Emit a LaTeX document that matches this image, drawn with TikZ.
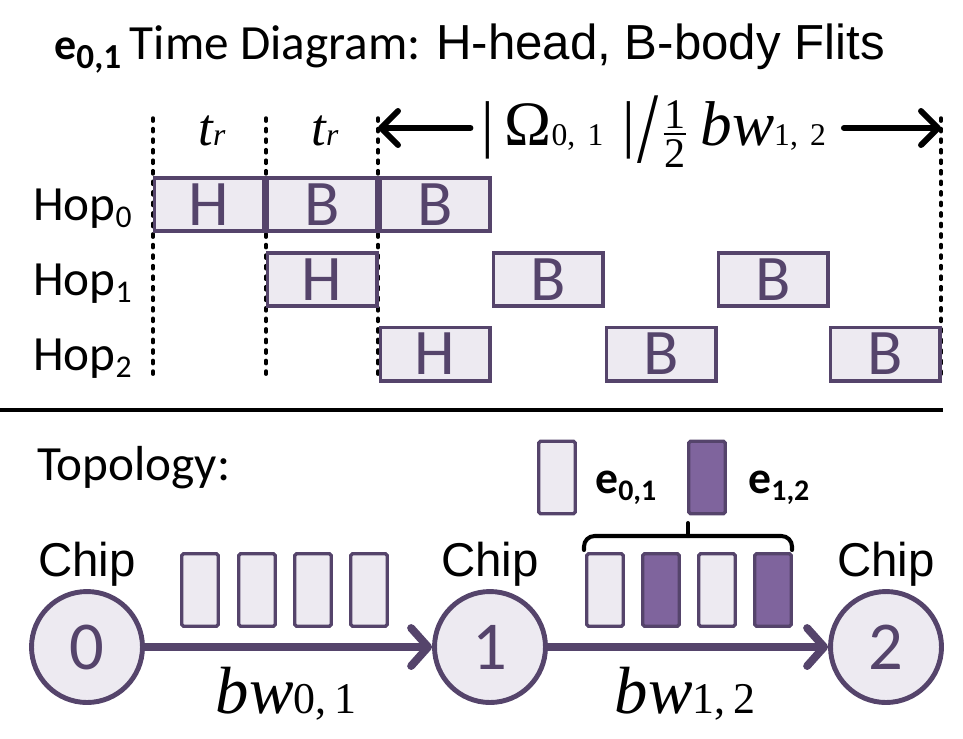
\documentclass[tikz,border=0pt]{standalone}
\usepackage{fontspec}
\setmainfont{Carlito}
\newfontfamily\arialfont{Liberation Sans}
\newfontfamily\timesfont{Liberation Serif}
\usetikzlibrary{arrows.meta}
\definecolor{flitline}{RGB}{85,68,107}
\definecolor{flitlight}{RGB}{237,234,241}
\definecolor{flitdark}{RGB}{127,100,157}
\newcommand{\fsz}[1]{\fontsize{#1}{#1}\selectfont}
\newcommand{\halffrac}{$\vcenter{\hbox to 13pt{\hss\fsz{24}1\hss}\kern3pt
  \hrule height 0.8pt\kern3pt\hbox to 13pt{\hss\fsz{24}2\hss}}$}

\begin{document}
\begin{tikzpicture}[x=0.02cm, y=-0.02cm,
  flit/.style={draw=flitline, fill=flitlight, line width=2pt, minimum width=2.19cm,
    minimum height=1.07cm, inner sep=0pt, text=flitline, font=\fsz{37}},
  pkt/.style={draw=flitline, fill=flitlight, line width=1.9pt, rounded corners=1pt,
    minimum width=0.73cm, minimum height=1.45cm, inner sep=0pt},
  chip/.style={circle, draw=flitline, fill=flitlight, line width=2.8pt,
    minimum size=2.22cm, inner sep=0pt, text=flitline, font=\fsz{39}},
  link/.style={draw=flitline, line width=4.5pt, line cap=round,
    -{Straight Barb[length=3.4mm, width=7.6mm, round]}},
  timearr/.style={black, line width=3.4pt, line cap=round,
    -{Straight Barb[length=3.4mm, width=6.8mm, round]}},
  tick/.style={black, line width=2pt, line cap=round, dash pattern=on 1.8pt off 4.2pt}]
  \useasboundingbox (0,0) rectangle (963,738);
  % title
  \node[anchor=base west, inner sep=0pt] (title) at (54,59)
    {\fsz{25}\textbf{e}\raisebox{-5.5pt}{\fsz{20}\textbf{0,1}}\hspace{5pt}\fsz{28}Time Diagram:%
     \hspace{9pt}{\arialfont\fsz{28}H-head, B-body Flits}};
  % time marks
  \coordinate (d0t) at (153,118); \coordinate (d0b) at (153,378);
  \coordinate (d1t) at (266,118); \coordinate (d1b) at (266,378);
  \coordinate (d2t) at (378,118); \coordinate (d2b) at (378,378);
  \coordinate (d3t) at (941,118); \coordinate (d3b) at (941,378);
  \draw[tick] (d0t) -- (d0b);
  \draw[tick] (d1t) -- (d1b);
  \draw[tick] (d2t) -- (d2b);
  \draw[tick] (d3t) -- (d3b);
  \node[anchor=base] (tr1) at (212,145) {\timesfont\fsz{30}\itshape t\fsz{18}r};
  \node[anchor=base] (tr2) at (325,145) {\timesfont\fsz{30}\itshape t\fsz{18}r};
  \node[anchor=base west, inner sep=0pt] (omega) at (481,145)
    {\timesfont\fsz{36}|\hspace{6pt}Ω\fsz{18}0,\hspace{7pt}1\hspace{11pt}\fsz{36}|\hspace{1pt}%
     \raisebox{-10pt}{\scalebox{1.2}[1.6]{/}}\hspace{3pt}\halffrac\hspace{8pt}%
     \itshape bw\upshape\fsz{18}1,\hspace{7pt}2};
  \coordinate (al) at (378,128);
  \coordinate (ar) at (941,128);
  \draw[timearr, shorten <=6pt] (omega.west |- al) -- (al);
  \draw[timearr, shorten <=10pt] (omega.east |- ar) -- (ar);
  % hop rows
  \node[anchor=base west] (hop0) at (27,220) {\fsz{28}Hop\raisebox{-4pt}{\fsz{18}0}};
  \node[anchor=base west] (hop1) at (27,295) {\fsz{28}Hop\raisebox{-4pt}{\fsz{18}1}};
  \node[anchor=base west] (hop2) at (27,370) {\fsz{28}Hop\raisebox{-4pt}{\fsz{18}2}};
  \node[flit] (h0a) at (209,204.5) {H};
  \node[flit] (h0b) at (322,204.5) {B};
  \node[flit] (h0c) at (435,204.5) {B};
  \node[flit] (h1a) at (322,279.5) {H};
  \node[flit] (h1b) at (548,279.5) {B};
  \node[flit] (h1c) at (773,279.5) {B};
  \node[flit] (h2a) at (435,354) {H};
  \node[flit] (h2b) at (661,354) {B};
  \node[flit] (h2c) at (885,354) {B};
  % separator
  \draw[black, line width=1.8pt] (0,410) -- (943,410);
  % topology
  \node[anchor=base west] (topo) at (31,480) {\fsz{28}Topology:};
  \node[pkt] (lg01) at (557,477.5) {};
  \node[anchor=base west, inner sep=0pt] (lg01t) at (595,493)
    {\fsz{26}\textbf{e}\raisebox{-4pt}{\fsz{17}\textbf{0,1}}};
  \node[pkt, fill=flitdark] (lg12) at (707,477.5) {};
  \node[anchor=base west, inner sep=0pt] (lg12t) at (748,493)
    {\fsz{26}\textbf{e}\raisebox{-4pt}{\fsz{17}\textbf{1,2}}};
  % chips
  \node[chip] (c0) at (87,647) {0};
  \node[chip] (c1) at (490,647) {1};
  \node[chip] (c2) at (886,647) {2};
  \node[anchor=base, font=\arialfont\fsz{27}] (l0) at (87,576) {Chip};
  \node[anchor=base, font=\arialfont\fsz{27}] (l1) at (490,576) {Chip};
  \node[anchor=base, font=\arialfont\fsz{27}] (l2) at (886,576) {Chip};
  \draw[link] (c0) -- (c1);
  \draw[link] (c1) -- (c2);
  \node[anchor=base] (bw01) at (286,713) {\timesfont\fsz{38}\itshape bw\upshape\fsz{25}0,\,1};
  \node[anchor=base] (bw12) at (685,713) {\timesfont\fsz{38}\itshape bw\upshape\fsz{25}1,\,2};
  % flits on the links
  \node[pkt] (f01a) at (200,590) {};
  \node[pkt] (f01b) at (257,590) {};
  \node[pkt] (f01c) at (313,590) {};
  \node[pkt] (f01d) at (369,590) {};
  \node[pkt] (f12a) at (605,590) {};
  \node[pkt, fill=flitdark] (f12b) at (661,590) {};
  \node[pkt] (f12c) at (717,590) {};
  \node[pkt, fill=flitdark] (f12d) at (773,590) {};
  % brace over the shared link
  \draw[black, line width=2.3pt, line cap=round, rounded corners=6pt]
    (584,550) -- (584,536) -- (792,536) -- (792,550);
  \draw[black, line width=2.3pt, line cap=round] (688,536) -- (688,523);
\end{tikzpicture}
\end{document}
